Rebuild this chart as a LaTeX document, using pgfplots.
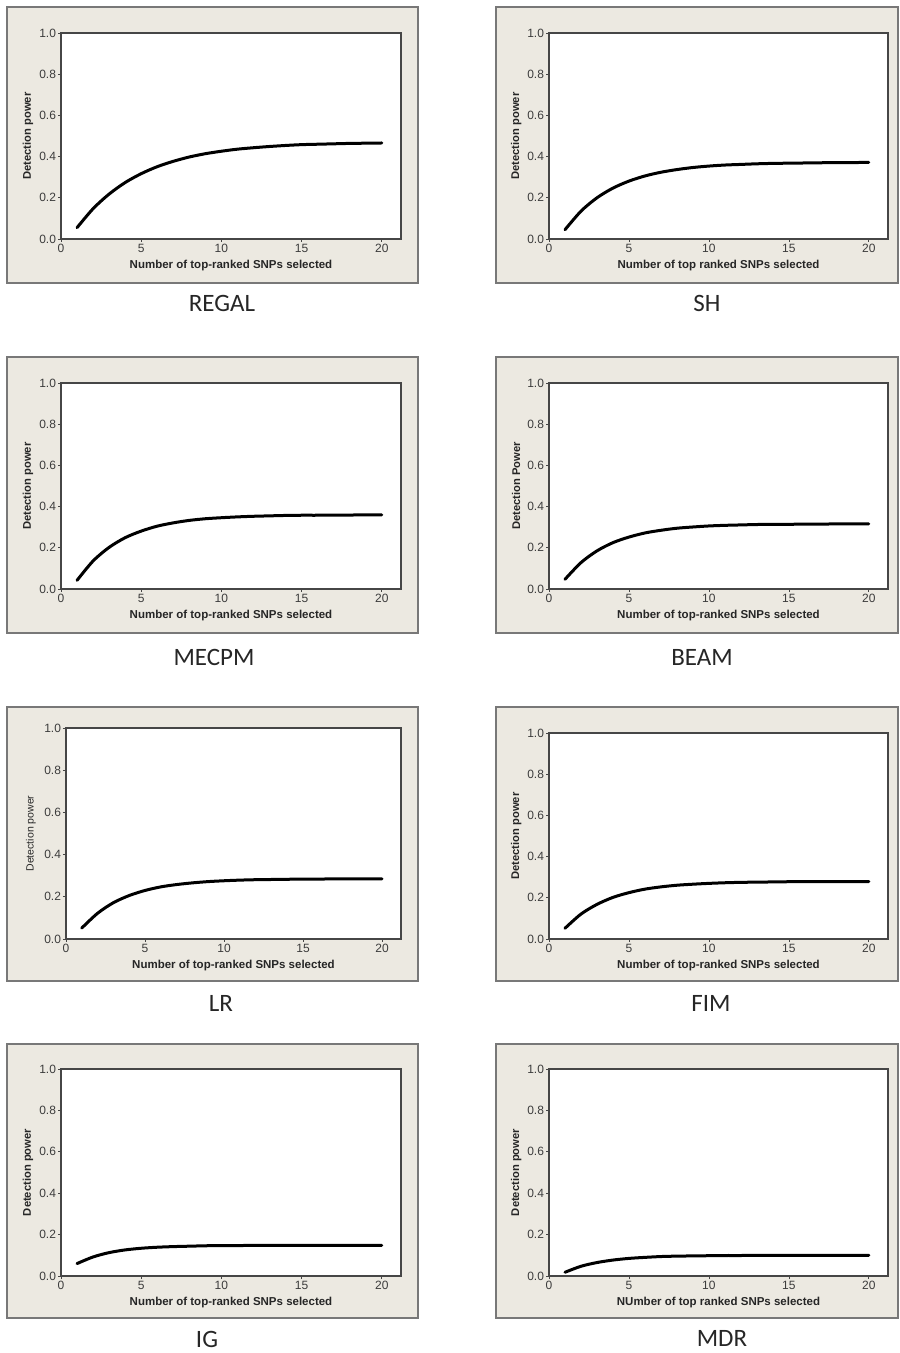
\documentclass[border=0pt]{standalone}
\usepackage{fontspec}
\setmainfont{Liberation Sans}
\newfontfamily\capfont{Carlito}
\usepackage{pgfplots}
\usepackage{pgfplotstable}
\pgfplotsset{compat=1.18}
\definecolor{beige}{RGB}{236,233,225}
\definecolor{boxgray}{RGB}{120,120,120}
\definecolor{axisgray}{RGB}{70,70,70}
\definecolor{textgray}{RGB}{60,60,60}

\pgfplotstableread{
x REGAL SH MECPM BEAM LR FIM IG MDR
1 0.055 0.045 0.042 0.047 0.052 0.052 0.060 0.018
2 0.147 0.135 0.136 0.128 0.122 0.121 0.092 0.047
3 0.218 0.200 0.202 0.185 0.172 0.168 0.113 0.065
4 0.274 0.247 0.249 0.225 0.206 0.202 0.126 0.077
5 0.317 0.281 0.281 0.252 0.230 0.225 0.134 0.085
6 0.351 0.306 0.305 0.272 0.247 0.242 0.139 0.090
7 0.377 0.324 0.321 0.285 0.258 0.253 0.142 0.094
8 0.398 0.337 0.333 0.295 0.266 0.261 0.144 0.096
9 0.414 0.347 0.341 0.301 0.272 0.266 0.146 0.097
10 0.426 0.354 0.346 0.306 0.276 0.270 0.147 0.098
11 0.436 0.359 0.350 0.309 0.279 0.273 0.147 0.099
12 0.443 0.362 0.353 0.311 0.281 0.275 0.148 0.099
13 0.449 0.365 0.355 0.313 0.282 0.276 0.148 0.100
14 0.454 0.367 0.357 0.314 0.283 0.277 0.148 0.100
15 0.458 0.368 0.358 0.314 0.284 0.278 0.148 0.100
16 0.460 0.369 0.358 0.315 0.284 0.278 0.148 0.100
17 0.462 0.370 0.359 0.315 0.285 0.279 0.148 0.100
18 0.464 0.371 0.359 0.316 0.285 0.279 0.148 0.100
19 0.465 0.371 0.360 0.316 0.285 0.279 0.148 0.100
20 0.466 0.372 0.360 0.316 0.285 0.279 0.148 0.100
}\data

\pgfplotsset{
  panel/.style={
    scale only axis, anchor=south west,
    xmin=0, xmax=21.2, ymin=0, ymax=1,
    xtick={0,5,10,15,20}, ytick={0,0.2,0.4,0.6,0.8,1.0},
    yticklabel style={/pgf/number format/fixed, /pgf/number format/fixed zerofill, /pgf/number format/precision=1},
    /pgf/number format/assume math mode=true,
    tick align=outside, tick pos=left, major tick length=3pt,
    axis line style={draw=axisgray, line width=1.5pt},
    every tick/.style={draw=axisgray, line width=0.7pt},
    tick label style={font=\fontsize{12}{14}\selectfont, text=textgray},
    xticklabel style={yshift=1.5pt},
    yticklabel style={xshift=1.5pt},
    axis background/.style={fill=white},
    every axis x label/.style={at={(axis description cs:0.5,-0.127)}, anchor=center, font=\bfseries\fontsize{11.5}{13}\selectfont, text=black!85},
    every axis y label/.style={at={(axis description cs:-0.097,0.5)}, anchor=center, rotate=90, font=\bfseries\fontsize{11.2}{13}\selectfont, text=black!85},
  },
  curve/.style={black, line width=3pt, smooth, line cap=round},
}

\begin{document}
\begin{tikzpicture}[x=1pt,y=1pt]
\useasboundingbox (0pt,0pt) rectangle (900pt,1353pt);
% background boxes
\filldraw[fill=beige, draw=boxgray, line width=1.2pt] (7pt,1346pt) rectangle (418pt,1070pt);
\filldraw[fill=beige, draw=boxgray, line width=1.2pt] (496pt,1346pt) rectangle (898pt,1070pt);
\filldraw[fill=beige, draw=boxgray, line width=1.2pt] (7pt,996pt) rectangle (418pt,720pt);
\filldraw[fill=beige, draw=boxgray, line width=1.2pt] (496pt,996pt) rectangle (898pt,720pt);
\filldraw[fill=beige, draw=boxgray, line width=1.2pt] (7pt,646pt) rectangle (418pt,372pt);
\filldraw[fill=beige, draw=boxgray, line width=1.2pt] (496pt,646pt) rectangle (898pt,372pt);
\filldraw[fill=beige, draw=boxgray, line width=1.2pt] (7pt,309pt) rectangle (418pt,35pt);
\filldraw[fill=beige, draw=boxgray, line width=1.2pt] (496pt,309pt) rectangle (898pt,35pt);

% REGAL
\begin{axis}[panel, at={(61pt,1114pt)}, width=340pt, height=206pt,
  xlabel={Number of top-ranked SNPs selected}, ylabel={Detection power}]
\addplot[curve] table[x=x, y=REGAL] {\data};
\end{axis}
% SH
\begin{axis}[panel, at={(549pt,1114pt)}, width=339pt, height=206pt,
  xlabel={Number of top ranked SNPs selected}, ylabel={Detection power}]
\addplot[curve] table[x=x, y=SH] {\data};
\end{axis}
% MECPM
\begin{axis}[panel, at={(61pt,764pt)}, width=340pt, height=206pt,
  xlabel={Number of top-ranked SNPs selected}, ylabel={Detection power}]
\addplot[curve] table[x=x, y=MECPM] {\data};
\end{axis}
% BEAM
\begin{axis}[panel, at={(549pt,764pt)}, width=339pt, height=206pt,
  xlabel={Number of top-ranked SNPs selected}, ylabel={Detection Power}]
\addplot[curve] table[x=x, y=BEAM] {\data};
\end{axis}
% LR
\begin{axis}[panel, at={(66pt,414pt)}, width=335pt, height=211pt,
  xlabel={Number of top-ranked SNPs selected}, ylabel={Detection power},
  every axis y label/.append style={font=\fontsize{10.5}{12}\selectfont, at={(axis description cs:-0.105,0.5)}}]
\addplot[curve] table[x=x, y=LR] {\data};
\end{axis}
% FIM
\begin{axis}[panel, at={(549pt,414pt)}, width=339pt, height=206pt,
  xlabel={Number of top-ranked SNPs selected}, ylabel={Detection power}]
\addplot[curve] table[x=x, y=FIM] {\data};
\end{axis}
% IG
\begin{axis}[panel, at={(61pt,77pt)}, width=340pt, height=207pt,
  xlabel={Number of top-ranked SNPs selected}, ylabel={Detection power}]
\addplot[curve] table[x=x, y=IG] {\data};
\end{axis}
% MDR
\begin{axis}[panel, at={(549pt,77pt)}, width=339pt, height=207pt,
  xlabel={NUmber of top ranked SNPs selected}, ylabel={Detection power}]
\addplot[curve] table[x=x, y=MDR] {\data};
\end{axis}

% captions
\begin{scope}[every node/.style={font=\capfont\fontsize{25}{28}\selectfont, text=black!85, anchor=center}]
\node at (222pt,1050pt) {REGAL};
\node at (707pt,1050pt) {SH};
\node at (214pt,696pt) {MECPM};
\node at (702pt,696pt) {BEAM};
\node at (221pt,350pt) {LR};
\node at (711pt,350pt) {FIM};
\node at (207pt,14pt) {IG};
\node at (722pt,15pt) {MDR};
\end{scope}
\end{tikzpicture}
\end{document}
